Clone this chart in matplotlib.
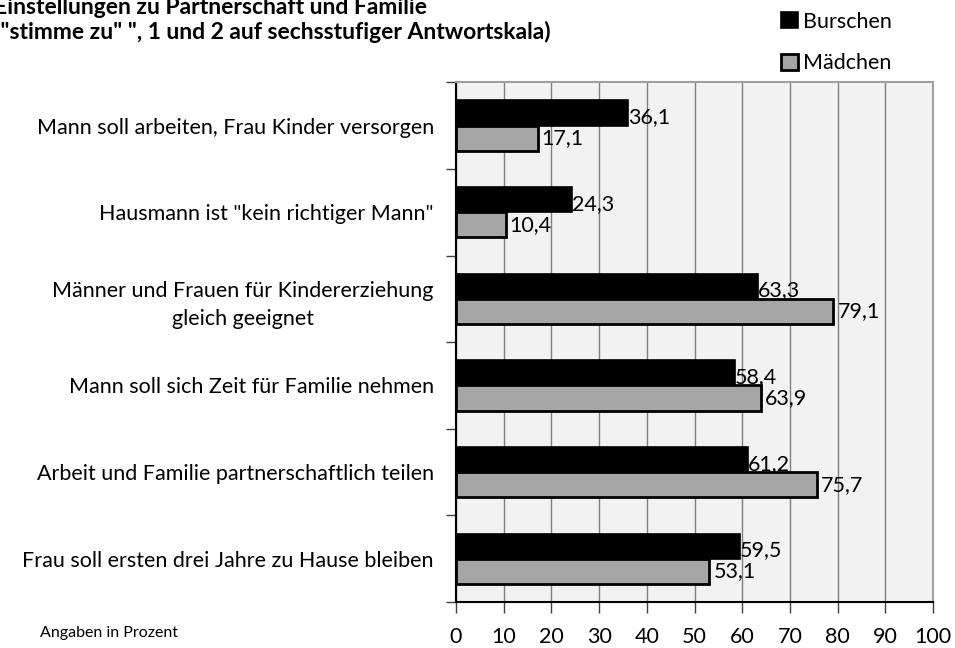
import matplotlib
matplotlib.use("Agg")
import matplotlib.pyplot as plt
import numpy as np

plt.rcParams['font.family'] = ['Lato', 'DejaVu Sans']

categories = [
    "Mann soll arbeiten, Frau Kinder versorgen",
    "Hausmann ist \"kein richtiger Mann\"",
    "Männer und Frauen für Kindererziehung\ngleich geeignet",
    "Mann soll sich Zeit für Familie nehmen",
    "Arbeit und Familie partnerschaftlich teilen",
    "Frau soll ersten drei Jahre zu Hause bleiben",
]
burschen = [36.1, 24.3, 63.3, 58.4, 61.2, 59.5]
maedchen = [17.1, 10.4, 79.1, 63.9, 75.7, 53.1]
xticks = list(range(0, 101, 10))

fig = plt.figure(figsize=(9.55, 6.48), dpi=100)
ax = fig.add_axes([0.4775, 0.071, 0.4995, 0.802])
ax.set_facecolor("#f2f2f2")

n = len(categories)
y = np.arange(n)
h = 0.29
ax.barh(y - h / 2, burschen, height=h, color="black", edgecolor="black", linewidth=1.2,
        label="Burschen", zorder=3)
ax.barh(y + h / 2, maedchen, height=h, color="#a6a6a6", edgecolor="black", linewidth=2,
        label="Mädchen", zorder=3)

for yi, v in zip(y, burschen):
    ax.annotate(f"{v:.1f}".replace(".", ","), (v, yi - h / 2), xytext=(0, -3),
                textcoords="offset points", ha="left", va="center", fontsize=15.5, zorder=4)
for yi, v in zip(y, maedchen):
    ax.annotate(f"{v:.1f}".replace(".", ","), (v, yi + h / 2), xytext=(3, 0),
                textcoords="offset points", ha="left", va="center", fontsize=15.5, zorder=4)

ax.set_xlim(0, 100)
ax.set_ylim(n - 0.5, -0.5)
ax.set_xticks(xticks)
ax.set_xticklabels([str(t) for t in xticks], fontsize=15.5)
ax.set_yticks(y)
ax.set_yticklabels(categories, fontsize=15.5, multialignment="center", linespacing=1.5)
ax.set_yticks(np.arange(-0.5, n, 1), minor=True)
ax.tick_params(axis="y", which="major", length=0, pad=16)
ax.tick_params(axis="y", which="minor", length=7, width=1, color="#404040")
ax.tick_params(axis="x", length=8, width=1, color="#404040", pad=10)
ax.grid(axis="x", color="#808080", linewidth=1, zorder=0)
ax.set_axisbelow(True)
for s in ["top", "right"]:
    ax.spines[s].set_color("#a0a0a0")
    ax.spines[s].set_linewidth(1.5)
for s in ["left", "bottom"]:
    ax.spines[s].set_color("black")
    ax.spines[s].set_linewidth(1.5)

leg = fig.legend(loc="upper left", bbox_to_anchor=(0.798, 1.012), frameon=False, fontsize=15.5,
                 handlelength=0.75, handleheight=0.75, handletextpad=0.25, labelspacing=1.0)

fig.text(-0.006, 0.988, "Einstellungen zu Partnerschaft und Familie", fontsize=16.5,
         fontweight="bold", ha="left", va="center")
fig.text(-0.006, 0.951, "(\"stimme zu\" \", 1 und 2 auf sechsstufiger Antwortskala)", fontsize=16.5,
         fontweight="bold", ha="left", va="center")
fig.text(0.042, 0.023, "Angaben in Prozent", fontsize=11.5, ha="left", va="center")

fig.savefig("out.png", dpi=100)
